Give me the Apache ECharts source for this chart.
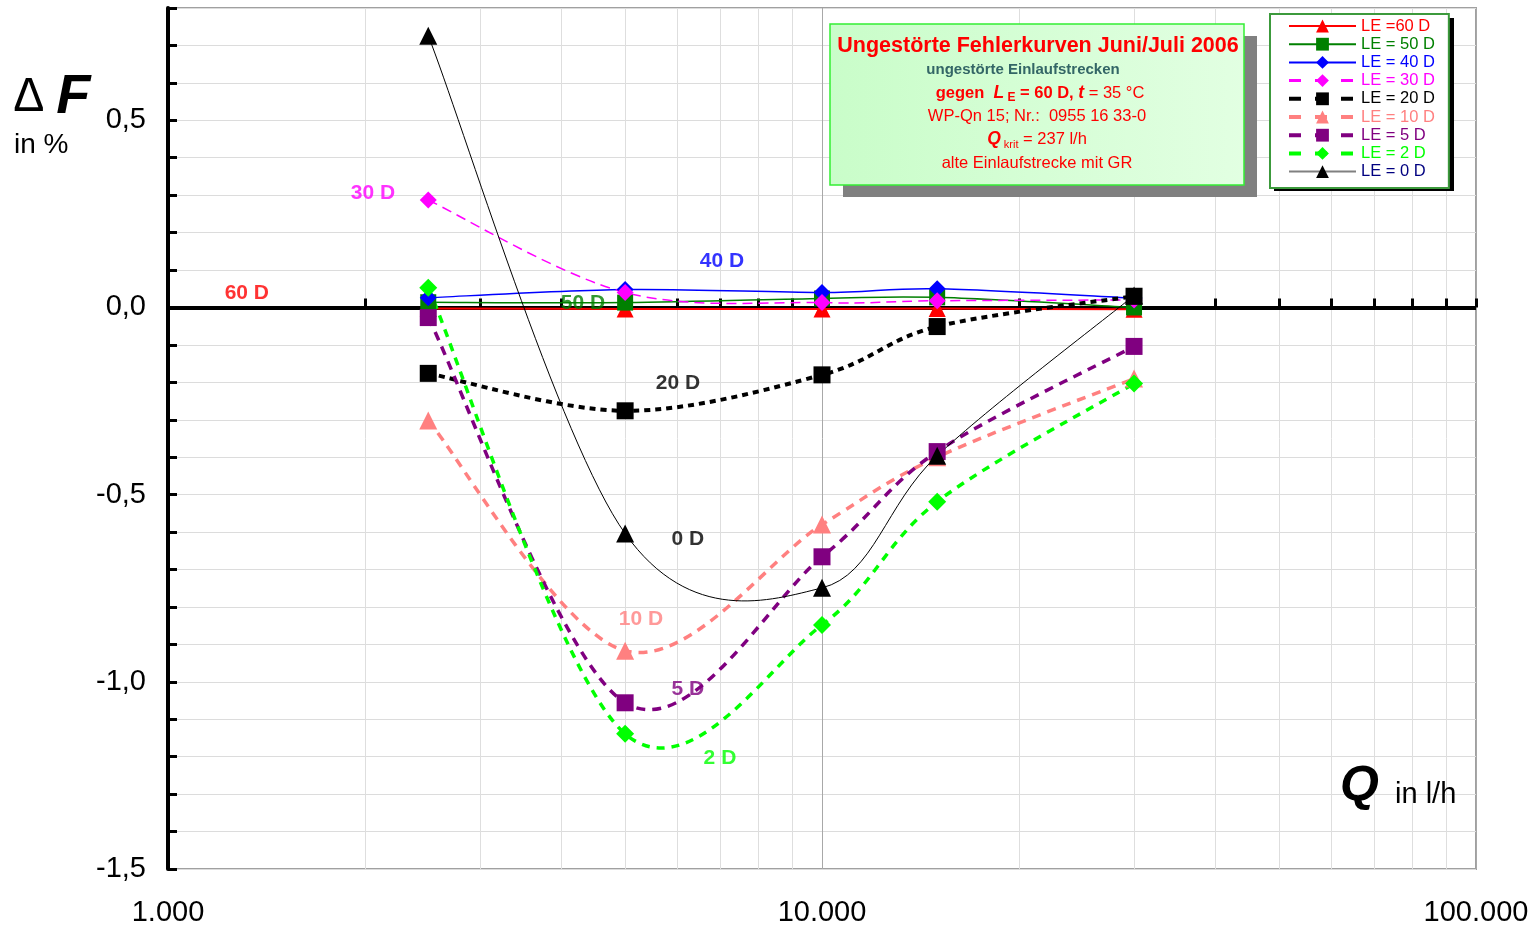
<!DOCTYPE html>
<html>
<head>
<meta charset="utf-8">
<script src="https://cdn.jsdelivr.net/npm/echarts@6/dist/echarts.min.js"></script>
<style>
html,body{margin:0;padding:0;background:#fff;}
#chart{width:1537px;height:927px;}
</style>
</head>
<body>
<div id="chart"></div>
<script>
// ---------------- DATA ----------------
const Q = [2500, 5000, 10000, 15000, 30000];            // flow rate in l/h
const dF_60D = [-0.003, -0.004, -0.004, -0.003, -0.005];
const dF_50D = [0.014, 0.013, 0.024, 0.027, 0.000];
const dF_40D = [0.026, 0.048, 0.040, 0.050, 0.025];
const dF_30D = [0.287, 0.040, 0.013, 0.018, 0.020];
const dF_20D = [-0.176, -0.276, -0.180, -0.051, 0.030];
const dF_10D = [-0.302, -0.917, -0.580, -0.400, -0.190];
const dF_5D  = [-0.027, -1.056, -0.666, -0.385, -0.104];
const dF_2D  = [0.053, -1.139, -0.848, -0.519, -0.203];
const dF_0D  = [0.726, -0.604, -0.749, -0.396, 0.032];

const seriesNames = ['LE =60 D', 'LE = 50 D', 'LE = 40 D', 'LE = 30 D', 'LE = 20 D',
                     'LE = 10 D', 'LE = 5 D', 'LE = 2 D', 'LE = 0 D'];
const seriesValues = [dF_60D, dF_50D, dF_40D, dF_30D, dF_20D, dF_10D, dF_5D, dF_2D, dF_0D];

// in-plot curve annotations (text, Q, dF)
const annText = ['60 D', '50 D', '40 D', '30 D', '20 D', '0 D', '10 D', '5 D', '2 D'];
const annQ    = [1320, 4311, 7030, 2058, 6024, 6237, 5288, 6237, 6982];
const annDF   = [0.037, 0.011, 0.123, 0.305, -0.203, -0.620, -0.834, -1.019, -1.203];

const yTickLabels = ['-1,5', '-1,0', '-0,5', '0,0', '0,5'];
const xMinorQ = [2000,3000,4000,5000,6000,7000,8000,9000,20000,30000,40000,50000,60000,70000,80000,90000];

// ---------------- STYLES ----------------
const FONT = "'Liberation Sans', Arial, Helvetica, sans-serif";
const styles = [
  {color:'#ff0000', symbol:'triangle', size:17, width:2,   type:'solid'},
  {color:'#008000', symbol:'rect',     size:16, width:1.5, type:'solid'},
  {color:'#0000ff', symbol:'diamond',  size:17, width:1.5, type:'solid'},
  {color:'#ff00ff', symbol:'diamond',  size:17, width:1.5, type:[10,6]},
  {color:'#000000', symbol:'rect',     size:17, width:4,   type:[6,5]},
  {color:'#ff8080', symbol:'triangle', size:18, width:3.5, type:[9,7]},
  {color:'#800080', symbol:'rect',     size:17, width:3.5, type:[9,7]},
  {color:'#00ff00', symbol:'diamond',  size:18, width:3.5, type:[8,7]},
  {color:'#000000', symbol:'triangle', size:18, width:1,   type:'solid', legendLine:'#808080', text:'#000080'}
];
const legendDash = ['solid','solid','solid',[12,14],[12,14],[12,14],[12,14],[12,14],'solid'];
const annColors = ['#ff0000','#008000','#0000ff','#ff00ff','#000000','#000000','#ff8080','#800080','#00ff00'];

const chart = echarts.init(document.getElementById('chart'), null, {renderer:'canvas'});

// marker series (also used for the legend); their own line is hidden
const markerSeries = seriesNames.map((name, i) => ({
  name: name,
  type: 'line',
  data: Q.map((q, k) => [q, seriesValues[i][k]]),
  symbol: styles[i].symbol,
  symbolSize: styles[i].size,
  showSymbol: true,
  itemStyle: {color: styles[i].color},
  lineStyle: {color: styles[i].color, width: styles[i].width, type: styles[i].type, opacity: 0},
  z: 3 + i * 0.01,
  animation: false,
  emphasis: {disabled: true}
}));

// smoothed curves (Catmull-Rom through the data points, in the chart's own pixel space)
const curveSeries = seriesNames.map((name, i) => ({
  name: '_curve' + i,
  type: 'custom',
  coordinateSystem: 'cartesian2d',
  data: Q.map((q, k) => [q, seriesValues[i][k]]),
  encode: {x: 0, y: 1},
  z: 2 + i * 0.01,
  silent: true,
  animation: false,
  renderItem: (params, api) => {
    if (params.dataIndex !== 0) return null;
    const pts = Q.map((q, k) => api.coord([q, seriesValues[i][k]]));
    const n = pts.length;
    let d = 'M' + pts[0][0] + ',' + pts[0][1];
    for (let k = 0; k < n - 1; k++) {
      const p0 = pts[Math.max(k - 1, 0)], p1 = pts[k], p2 = pts[k + 1], p3 = pts[Math.min(k + 2, n - 1)];
      const c1x = p1[0] + (p2[0] - p0[0]) / 6, c1y = p1[1] + (p2[1] - p0[1]) / 6;
      const c2x = p2[0] - (p3[0] - p1[0]) / 6, c2y = p2[1] - (p3[1] - p1[1]) / 6;
      d += ' C' + c1x + ',' + c1y + ' ' + c2x + ',' + c2y + ' ' + p2[0] + ',' + p2[1];
    }
    return {
      type: 'path',
      shape: {pathData: d},
      style: {fill: 'none', stroke: styles[i].color, lineWidth: styles[i].width,
              lineDash: styles[i].type === 'solid' ? null : styles[i].type}
    };
  }
}));

const helperLines = [];
xMinorQ.forEach(q => helperLines.push({xAxis: q, lineStyle:{color:'#dedede', width:1, type:'solid'}}));
helperLines.push({yAxis: 0, lineStyle:{color:'#000', width:4, type:'solid'}});
xMinorQ.concat([10000, 100000]).forEach(q => helperLines.push([
  {coord:[q, 0], lineStyle:{color:'#000', width:3, type:'solid'}},
  {coord:[q, 0.024]}
]));

const helperSeries = {
  name: 'helper',
  type: 'line',
  data: [],
  z: 1,
  silent: true,
  animation: false,
  markLine: {
    silent: true, z: 1, animation: false,
    symbol: ['none','none'],
    label: {show:false},
    emphasis: {disabled:true},
    data: helperLines
  }
};

const annSeries = {
  name: 'annotations',
  type: 'scatter',
  symbolSize: 0,
  z: 10,
  silent: true,
  animation: false,
  data: annText.map((t, i) => ({
    value: [annQ[i], annDF[i]], name: t,
    label: {color: annColors[i]}
  })),
  label: {
    show: true, position: 'inside', formatter: p => p.name,
    fontFamily: FONT, fontSize: 21, fontWeight: 'bold'
  }
};

const fmtThousands = v => String(Math.round(v)).replace(/\B(?=(\d{3})+(?!\d))/g, '.');

const option = {
  animation: false,
  backgroundColor: '#ffffff',
  grid: {left:168, right:61, top:8, bottom:58, show:true, borderColor:'#a0a0a0', borderWidth:2, backgroundColor:'#fff'},
  xAxis: {
    type: 'log', logBase: 10, min: 1000, max: 100000,
    axisLine: {show:false, onZero:false},
    axisTick: {show:false},
    splitLine: {show:true, lineStyle:{color:'#a8a8a8', width:1}},
    axisLabel: {fontFamily:FONT, fontSize:29, color:'#000', margin:29, formatter: fmtThousands}
  },
  yAxis: {
    type: 'value', min: -1.5, max: 0.8, interval: 0.1,
    axisLine: {show:true, onZero:false, lineStyle:{color:'#000', width:4}},
    axisTick: {show:true, inside:true, length:9, lineStyle:{color:'#000', width:3}},
    splitLine: {show:true, lineStyle:{color:'#dcdcdc', width:1}},
    axisLabel: {
      fontFamily:FONT, fontSize:29, color:'#000', margin:22,
      formatter: v => {
        const r = Math.round(v * 10);
        if (r % 5 !== 0) return '';
        const idx = (r + 15) / 5;
        return yTickLabels[idx] !== undefined ? yTickLabels[idx] : '';
      }
    }
  },
  legend: {
    orient: 'vertical', left: 1270, top: 14, z: 12,
    itemWidth: 67, itemHeight: 16, itemGap: 1.2,
    padding: [3.5, 14, 8, 17],
    backgroundColor: '#fff', borderColor: '#3c9a3c', borderWidth: 2,
    textStyle: {fontFamily:FONT, fontSize:16.5},
    selectedMode: false,
    data: seriesNames.map((n, i) => ({
      name: n,
      textStyle: {color: styles[i].text || styles[i].color},
      lineStyle: {color: styles[i].legendLine || styles[i].color,
                  width: i >= 3 && i <= 7 ? (i === 3 ? 3 : 4) : Math.max(styles[i].width, 2),
                  type: legendDash[i], opacity: 1}
    }))
  },
  graphic: [
    // legend shadow
    {type:'rect', z:11, shape:{x:1274, y:18, width:180, height:173}, style:{fill:'#000'}},
    // axis titles
    {type:'text', left:14, top:70, z:30, style:{text:'{d|∆}{f|F}', rich:{
      d:{fontFamily:FONT, fontSize:48, fontStyle:'italic', fill:'#000', fontWeight:'normal'},
      f:{fontFamily:FONT, fontSize:56, fontStyle:'italic', fontWeight:'bold', fill:'#000', padding:[0,0,0,13]}
    }}},
    {type:'text', left:14, top:131, z:30, style:{text:'in %', fontFamily:FONT, fontSize:28, fill:'#000'}},
    {type:'text', left:1340, top:762, z:30, style:{text:'Q', fontFamily:FONT, fontSize:50, fontStyle:'italic', fontWeight:'bold', fill:'#000'}},
    {type:'text', left:1395, top:780, z:30, style:{text:'in l/h', fontFamily:FONT, fontSize:29, fill:'#000'}},
    // info box
    {type:'rect', z:20, shape:{x:843, y:36, width:414, height:161}, style:{fill:'#808080'}},
    {type:'rect', z:21, shape:{x:830, y:24, width:414, height:161}, style:{
      fill: new echarts.graphic.LinearGradient(0,0,1,0,[{offset:0,color:'#c9fdc9'},{offset:1,color:'#e2ffe2'}]),
      stroke:'#33ee33', lineWidth:1.5}},
    {type:'text', z:22, x:1038, y:46, style:{text:'Ungestörte Fehlerkurven Juni/Juli 2006', fontFamily:FONT, fontSize:21.5, fontWeight:'bold', fill:'#ff0000', align:'center', verticalAlign:'middle'}},
    {type:'text', z:22, x:1023, y:70, style:{text:'ungestörte Einlaufstrecken', fontFamily:FONT, fontSize:15, fontWeight:'bold', fill:'#336666', align:'center', verticalAlign:'middle'}},
    {type:'text', z:22, x:1040, y:93, style:{
      text:'{b|gegen  }{bi|L}{sub| E}{b| = 60 D, }{bi|t}{n| = 35 °C}', align:'center', verticalAlign:'middle',
      rich:{
        b:{fontFamily:FONT, fontSize:16.5, fontWeight:'bold', fill:'#ff0000', lineHeight:22},
        bi:{fontFamily:FONT, fontSize:17.5, fontWeight:'bold', fontStyle:'italic', fill:'#ff0000', lineHeight:22},
        sub:{fontFamily:FONT, fontSize:12, fontWeight:'bold', fill:'#ff0000', lineHeight:22, verticalAlign:'bottom'},
        n:{fontFamily:FONT, fontSize:16.5, fill:'#ff0000', lineHeight:22}
      }}},
    {type:'text', z:22, x:1037, y:116, style:{text:'WP-Qn 15; Nr.:  0955 16 33-0', fontFamily:FONT, fontSize:16.5, fill:'#ff0000', align:'center', verticalAlign:'middle'}},
    {type:'text', z:22, x:1037, y:139, style:{
      text:'{bi|Q}{sub| krit}{n| = 237 l/h}', align:'center', verticalAlign:'middle',
      rich:{
        bi:{fontFamily:FONT, fontSize:17.5, fontWeight:'bold', fontStyle:'italic', fill:'#ff0000', lineHeight:22},
        sub:{fontFamily:FONT, fontSize:11, fill:'#ff0000', lineHeight:22, verticalAlign:'bottom'},
        n:{fontFamily:FONT, fontSize:16.5, fill:'#ff0000', lineHeight:22}
      }}},
    {type:'text', z:22, x:1037, y:163, style:{text:'alte Einlaufstrecke mit GR', fontFamily:FONT, fontSize:16.5, fill:'#ff0000', align:'center', verticalAlign:'middle'}}
  ],
  series: [helperSeries].concat(curveSeries).concat(markerSeries).concat([annSeries])
};

chart.setOption(option);
</script>
</body>
</html>
